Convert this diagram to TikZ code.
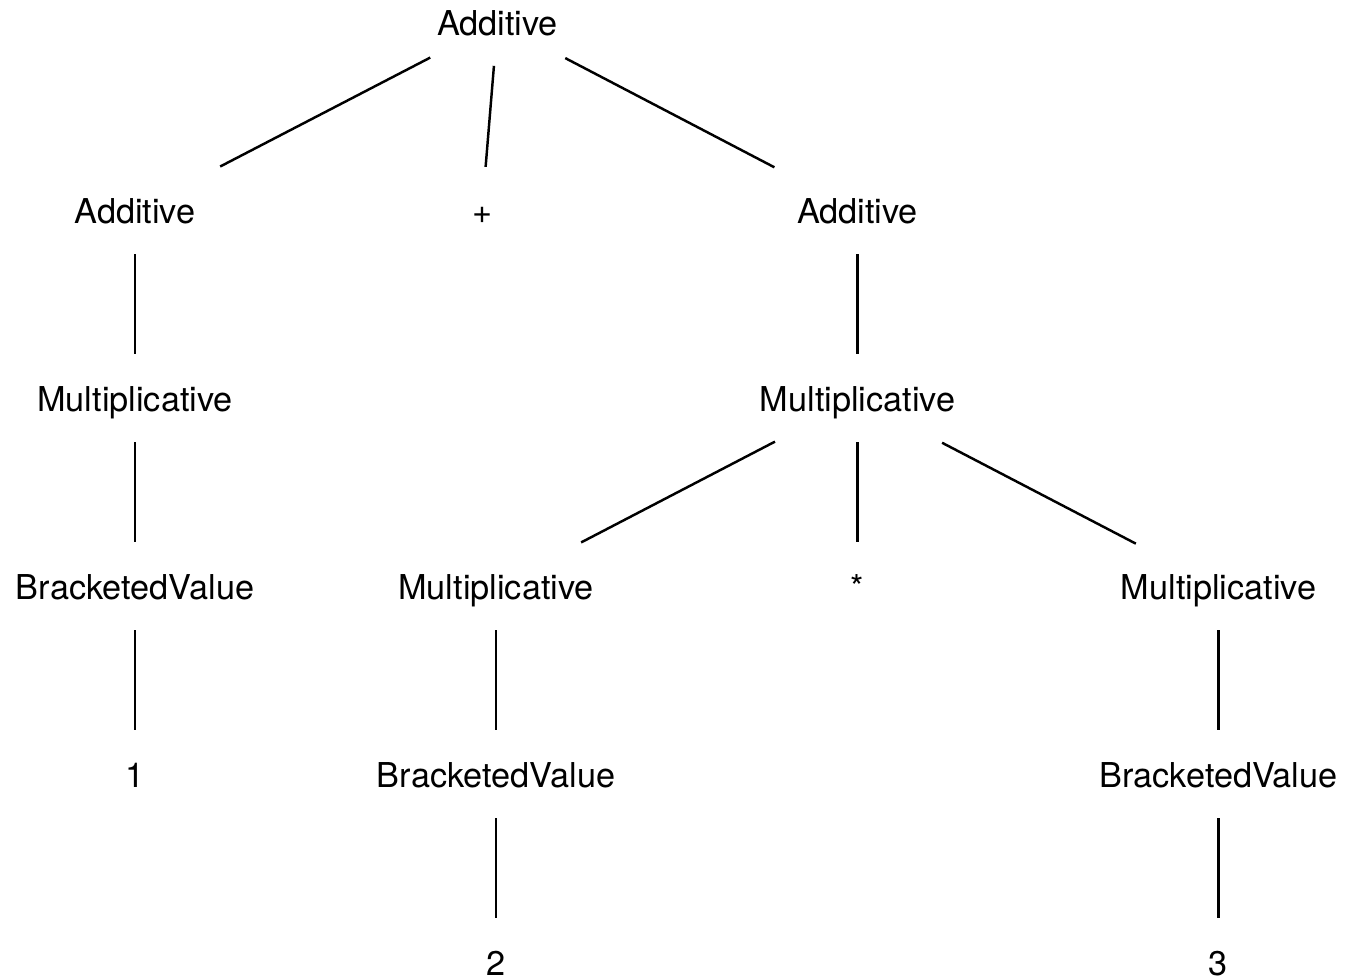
\documentclass[tikz,border=0pt]{standalone}
\usepackage{fontspec}
\setmainfont{TeX Gyre Heros}
\begin{document}
\begin{tikzpicture}[x=0.02cm,y=-0.02cm,
  tn/.style={inner sep=0pt, text height=0.5cm, text depth=0pt,
    font=\fontsize{19.5}{22}\selectfont},
  edge/.style={line width=1.4pt},
  vedge/.style={edge, shorten <=0.87cm, shorten >=0.89cm}]
\useasboundingbox (0,0) rectangle (1345,977);
\node[tn] (root) at (497.5,22.7) {Additive};
\node[tn] (a1) at (135,210.7) {Additive};
\node[tn] (plus) at (482,210.7) {+};
\node[tn] (a2) at (857.5,210.7) {Additive};
\node[tn] (m1) at (135,398.7) {Multiplicative};
\node[tn] (m2) at (857.5,398.7) {Multiplicative};
\node[tn] (b1) at (135,586.7) {BracketedValue};
\node[tn] (m3) at (496,586.7) {Multiplicative};
\node[tn] (star) at (857.5,586.7) {*};
\node[tn] (m4) at (1218.5,586.7) {Multiplicative};
\node[tn] (one) at (135,774.7) {1};
\node[tn] (b2) at (496,774.7) {BracketedValue};
\node[tn] (b3) at (1218.5,774.7) {BracketedValue};
\node[tn] (two) at (496,962.7) {2};
\node[tn] (three) at (1218.5,962.7) {3};
\draw[edge, shorten <=1.516cm, shorten >=1.92cm] (root.center) -- (a1.center);
\draw[edge, shorten <=0.866cm, shorten >=0.88cm] (root.center) -- (plus.center);
\draw[edge, shorten <=1.53cm, shorten >=1.876cm] (root.center) -- (a2.center);
\draw[vedge] (a1.center) -- (m1.center);
\draw[vedge] (m1.center) -- (b1.center);
\draw[vedge] (b1.center) -- (one.center);
\draw[vedge] (a2.center) -- (m2.center);
\draw[edge, shorten <=1.86cm, shorten >=1.92cm] (m2.center) -- (m3.center);
\draw[vedge] (m2.center) -- (star.center);
\draw[edge, shorten <=1.908cm, shorten >=1.864cm] (m2.center) -- (m4.center);
\draw[vedge] (m3.center) -- (b2.center);
\draw[vedge] (b2.center) -- (two.center);
\draw[vedge] (m4.center) -- (b3.center);
\draw[vedge] (b3.center) -- (three.center);
\end{tikzpicture}
\end{document}
